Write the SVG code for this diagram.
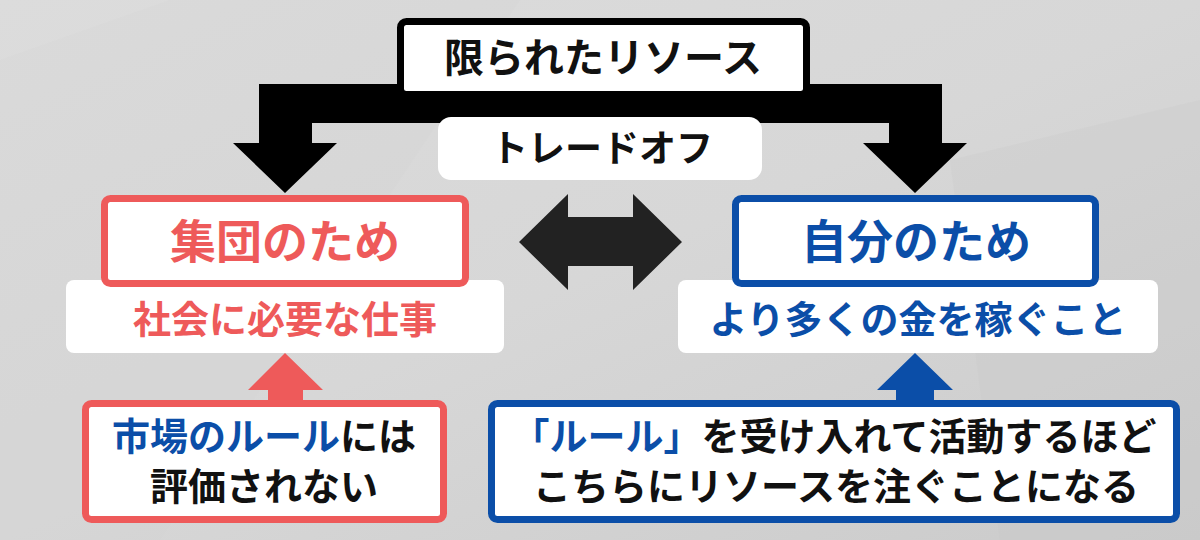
<svg xmlns="http://www.w3.org/2000/svg" width="1200" height="540" viewBox="0 0 1200 540">
<defs>
<linearGradient id="bg" x1="0" y1="0" x2="1" y2="1">
<stop offset="0" stop-color="#dcdcdc"/>
<stop offset="0.5" stop-color="#d7d7d7"/>
<stop offset="1" stop-color="#cbcbcb"/>
</linearGradient>
<style>
text{font-family:"Noto Sans CJK JP","Noto Sans CJK SC",sans-serif;font-weight:700;text-anchor:middle}
.red{fill:#ee5a5a}
.blue{fill:#0b4ea8}
.blk{fill:#111}
.wbox{fill:#fff}
.rbox{fill:#fff;stroke:#ee5a5a;stroke-width:7}
.bbox{fill:#fff;stroke:#0b4ea8;stroke-width:7}
</style>
</defs>
<rect x="0" y="0" width="1200" height="540" fill="url(#bg)"/>
<polygon points="0,60 170,0 520,0 160,540 0,540" fill="#d3d3d3" opacity="0.2"/>
<polygon points="950,160 1200,100 1200,540 1000,540" fill="#c9c9c9" opacity="0.25"/>

<g id="connectors">
<polygon points="259,84 942,84 942,143 967,143 915,193 863,143 889,143 889,123 312,123 312,143 337,143 285,193 233,143 259,143" fill="#000"/>
<polygon points="519,242 568,194 568,217 633,217 633,194 682,242 633,290 633,266 568,266 568,290" fill="#222"/>
<polygon points="285,353 323,390 303,390 303,404 268,404 268,390 248,390" fill="#ee5a5a"/>
<polygon points="915,353 953,390 934,390 934,404 896,404 896,390 877,390" fill="#0b4ea8"/>
</g>

<g id="resource">
<rect x="400.5" y="21.5" width="406" height="73" rx="6" fill="#fff" stroke="#000" stroke-width="7"/>
<text x="603" y="72" font-size="40" class="blk">限られたリソース</text>
</g>

<g id="tradeoff">
<rect x="438" y="117" width="324" height="63" rx="13" class="wbox"/>
<text x="602" y="162" font-size="37" class="blk">トレードオフ</text>
</g>

<g id="group">
<rect x="66" y="280" width="438" height="73" rx="8" class="wbox"/>
<rect x="104.5" y="198.5" width="361" height="85" rx="6" class="rbox"/>
<text x="285" y="258" font-size="46" class="red">集団のため</text>
<text x="285" y="333" font-size="38" class="red">社会に必要な仕事</text>
</g>

<g id="self">
<rect x="678" y="280" width="480" height="73" rx="8" class="wbox"/>
<rect x="735.5" y="198.5" width="360" height="85" rx="6" class="bbox"/>
<text x="916" y="258" font-size="46" class="blue">自分のため</text>
<text x="918" y="333" font-size="38" class="blue">より多くの金を稼ぐこと</text>
</g>

<g id="market">
<rect x="85.5" y="403.5" width="358" height="116" rx="6" class="rbox"/>
<text x="264" y="450" font-size="38"><tspan class="blue">市場のルール</tspan><tspan class="blk">には</tspan></text>
<text x="264" y="500" font-size="38" class="blk">評価されない</text>
</g>

<g id="rule">
<rect x="491.5" y="403.5" width="685" height="116" rx="6" class="bbox"/>
<text x="834" y="450" font-size="38"><tspan class="blue">「ルール」</tspan><tspan class="blk">を受け入れて活動するほど</tspan></text>
<text x="836" y="500" font-size="38" class="blk">こちらにリソースを注ぐことになる</text>
</g>
</svg>
